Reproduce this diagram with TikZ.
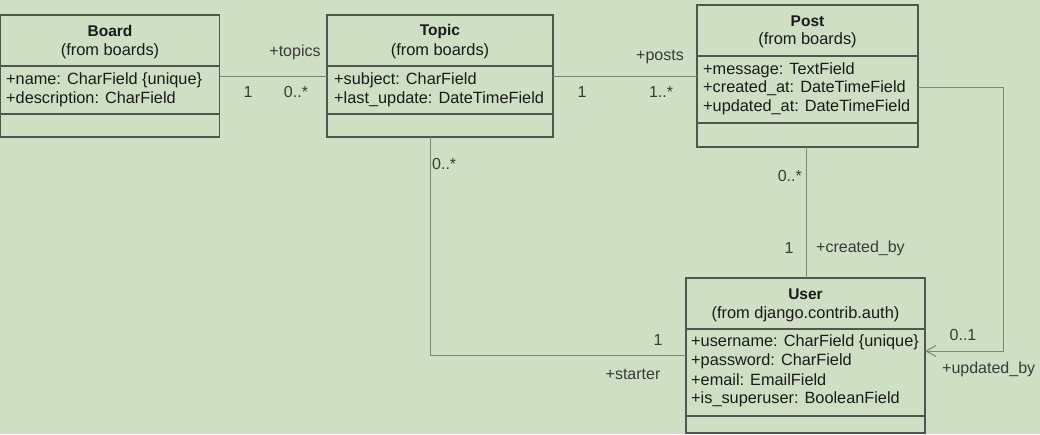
\documentclass[tikz,border=0pt]{standalone}
\usepackage{fontspec}
\setmainfont{Liberation Sans}
\usetikzlibrary{arrows.meta}
\definecolor{bg}{HTML}{CFDFC3}
\definecolor{boxline}{HTML}{4F554F}
\definecolor{connline}{HTML}{7A8777}
\definecolor{txt}{HTML}{1A1A1A}
\definecolor{lbl}{HTML}{3A3A3A}
\begin{document}
\begin{tikzpicture}[x=1pt,y=-1pt,
  umlbox/.style={draw=boxline,line width=1.3pt,fill=bg,anchor=north west,inner sep=0pt,outer sep=0pt},
  divider/.style={draw=boxline,line width=1.3pt},
  cname/.style={font=\fontsize{15.5}{18}\selectfont\bfseries,text=txt,inner sep=0pt},
  cfrom/.style={font=\fontsize{16.4}{18}\selectfont,text=txt,inner sep=0pt},
  attr/.style={font=\fontsize{16.3}{18}\selectfont,text=txt,anchor=west,inner sep=0pt},
  conn/.style={draw=connline,line width=1pt},
  lab/.style={font=\fontsize{16}{18}\selectfont,text=lbl,inner sep=0pt}]
\fill[bg] (0,0) rectangle (1040,434);
\useasboundingbox (0,0) rectangle (1040,434);

% Board
\node[umlbox,minimum width=219,minimum height=122] (board) at (0.5,15) {};
\draw[divider] ([yshift=-51pt]board.north west) -- ([yshift=-51pt]board.north east);
\draw[divider] ([yshift=-99pt]board.north west) -- ([yshift=-99pt]board.north east);
\node[cname] (boardn) at (110,31) {Board};
\node[cfrom] (boardf) at (110,51) {(from boards)};
\node[attr] (ba1) at (6,80) {+name: CharField \{unique\}};
\node[attr] (ba2) at (6,99) {+description: CharField};

% Topic
\node[umlbox,minimum width=226,minimum height=122] (topic) at (327,15) {};
\draw[divider] ([yshift=-51pt]topic.north west) -- ([yshift=-51pt]topic.north east);
\draw[divider] ([yshift=-99pt]topic.north west) -- ([yshift=-99pt]topic.north east);
\node[cname] (topicn) at (440,31) {Topic};
\node[cfrom] (topicf) at (440,51) {(from boards)};
\node[attr] (ta1) at (334,80) {+subject: CharField};
\node[attr] (ta2) at (334,99) {+last\_update: DateTimeField};

% Post
\node[umlbox,minimum width=221,minimum height=142] (post) at (697,5) {};
\draw[divider] ([yshift=-51pt]post.north west) -- ([yshift=-51pt]post.north east);
\draw[divider] ([yshift=-118pt]post.north west) -- ([yshift=-118pt]post.north east);
\node[cname] (postn) at (807.5,21) {Post};
\node[cfrom] (postf) at (807.5,40) {(from boards)};
\node[attr] (pa1) at (703,70) {+message: TextField};
\node[attr] (pa2) at (703,88.5) {+created\_at: DateTimeField};
\node[attr] (pa3) at (703,107) {+updated\_at: DateTimeField};

% User
\node[umlbox,minimum width=239,minimum height=155] (user) at (686,278) {};
\draw[divider] ([yshift=-51pt]user.north west) -- ([yshift=-51pt]user.north east);
\draw[divider] ([yshift=-138pt]user.north west) -- ([yshift=-138pt]user.north east);
\node[cname] (usern) at (805.5,294) {User};
\node[cfrom] (userf) at (805.5,314) {(from django.contrib.auth)};
\node[attr] (ua1) at (691,342) {+username: CharField \{unique\}};
\node[attr] (ua2) at (691,361) {+password: CharField};
\node[attr] (ua3) at (691,380) {+email: EmailField};
\node[attr] (ua4) at (691,399) {+is\_superuser: BooleanField};

% Board -- Topic
\draw[conn] (board.east) -- (topic.west);
\node[lab] (l1) at (295,52) {+topics};
\node[lab] (l2) at (248,92) {1};
\node[lab] (l3) at (296,92) {0..*};

% Topic -- Post
\draw[conn] (topic.east) -- (post.west |- topic.east);
\node[lab] (l4) at (660,57) {+posts};
\node[lab] (l5) at (582,92) {1};
\node[lab] (l6) at (661,92) {1..*};

% Topic -- User (starter)
\draw[conn] ([xshift=-10pt]topic.south) |- (user.west);
\node[lab,anchor=west] (l7) at (432,164) {0..*};
\node[lab] (l8) at (658,340) {1};
\node[lab] (l9) at (633,374) {+starter};

% Post -- User (created_by)
\draw[conn] ([xshift=-1.5pt]post.south) -- ([xshift=-1.5pt]post.south |- user.north);
\node[lab,anchor=east] (l10) at (802,176) {0..*};
\node[lab] (l11) at (789,248) {1};
\node[lab,anchor=west] (l12) at (816,248) {+created\_by};

% Post -- User (updated_by)
\coordinate (c1) at (1003,87);
\coordinate (c2) at (1003,351);
\draw[conn,-{Straight Barb[length=10pt,width=11pt,line width=1pt]}]
  ([yshift=-11pt]post.east) -- (c1) -- (c2) -- (user.east |- c2);
\node[lab] (l13) at (963,335) {0..1};
\node[lab,anchor=west] (l14) at (942,369) {+updated\_by};
\end{tikzpicture}
\end{document}
